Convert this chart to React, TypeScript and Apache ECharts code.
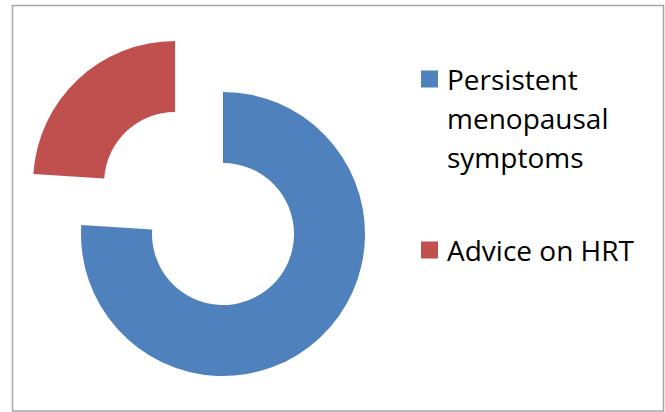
import React, { useEffect, useRef } from "react";
import * as echarts from "echarts";

// Share of responses per reason
const categories = ["Persistent menopausal symptoms", "Advice on HRT"];
const shares = [76, 24];
const colors = ["#4F81BD", "#C0504D"];

const FONT = "'Open Sans', 'Noto Sans', sans-serif";

export default function App() {
  const ref = useRef<HTMLDivElement>(null);

  useEffect(() => {
    if (!ref.current) return;
    const chart = echarts.init(ref.current, undefined, { renderer: "svg" });

    const legendText = {
      fontFamily: FONT,
      fontSize: 28,
      lineHeight: 39,
      color: "#000000",
      rich: {
        t: {
          fontFamily: FONT,
          fontSize: 28,
          lineHeight: 39,
          color: "#000000",
          padding: [0, 0, 0, 4],
        },
      },
    };

    const wrap = (name: string) =>
      name
        .split(" ")
        .map((w) => `{t|${w}}`)
        .join("\n");

    chart.setOption({
      animation: false,
      backgroundColor: "#ffffff",
      legend: [
        {
          data: [categories[0]],
          orient: "vertical",
          left: 421,
          top: -18.5,
          padding: 0,
          icon: "rect",
          itemWidth: 17,
          itemHeight: 17,
          selectedMode: false,
          // One word per line; two leading empty lines keep the first
          // line level with the (vertically centred) swatch.
          formatter: (name: string) => "\n\n" + wrap(name),
          textStyle: legendText,
        },
        {
          data: [categories[1]],
          orient: "vertical",
          left: 421,
          top: 230.5,
          padding: 0,
          icon: "rect",
          itemWidth: 17,
          itemHeight: 17,
          selectedMode: false,
          formatter: (name: string) => `{t|${name}}`,
          textStyle: legendText,
        },
      ],
      graphic: [
        {
          type: "rect",
          shape: { x: 12.5, y: 5.5, width: 651, height: 405.5 },
          style: { fill: "none", stroke: "#a6a6a6", lineWidth: 1.5 },
          silent: true,
        },
      ],
      series: [
        {
          type: "pie",
          center: [223, 234],
          radius: [71, 142],
          startAngle: 90,
          clockwise: true,
          selectedMode: "single",
          selectedOffset: 70,
          label: { show: false },
          labelLine: { show: false },
          emphasis: { disabled: true },
          itemStyle: { borderWidth: 0 },
          data: categories.map((name, i) => ({
            name,
            value: shares[i],
            selected: i === 1,
            itemStyle: { color: colors[i] },
          })),
        },
      ],
    });

    return () => chart.dispose();
  }, []);

  return (
    <div
      ref={ref}
      style={{
        position: "fixed",
        left: 0,
        top: 0,
        width: 665,
        height: 412,
        background: "#ffffff",
      }}
    />
  );
}
